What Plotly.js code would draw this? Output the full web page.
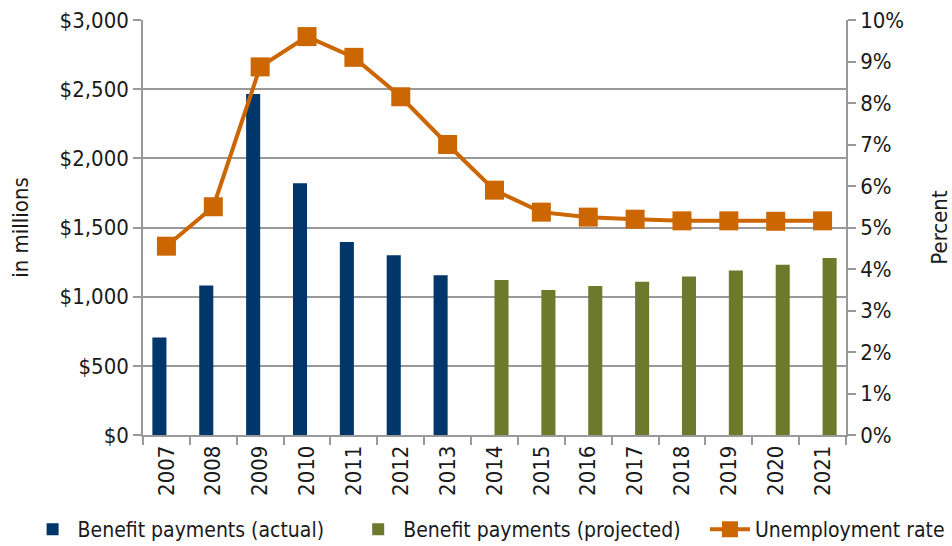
<!DOCTYPE html>
<html><head><meta charset="utf-8">
<script src="https://cdn.plot.ly/plotly-3.0.1.min.js"></script>
<style>body{margin:0;background:#fff}#c{width:952px;height:546px}</style>
</head><body><div id="c"></div>
<script>
const years = ["2007","2008","2009","2010","2011","2012","2013","2014","2015","2016","2017","2018","2019","2020","2021"];
const actual = [705, 1080, 2465, 1820, 1395, 1300, 1155, null, null, null, null, null, null, null, null];
const projected = [null, null, null, null, null, null, null, 1120, 1048, 1078, 1108, 1145, 1190, 1230, 1280];
const unemployment = [4.55, 5.5, 8.87, 9.6, 9.1, 8.15, 7.0, 5.9, 5.37, 5.25, 5.2, 5.16, 5.16, 5.15, 5.16];

const font = "'DejaVu Sans Condensed', 'Liberation Sans Narrow', 'Arial Narrow', sans-serif";
const traces = [
  {type:'bar', x:years, y:actual, name:'Benefit payments (actual)', marker:{color:'#00366A'}, legend:'legend'},
  {type:'bar', x:years, y:projected, name:'Benefit payments (projected)', marker:{color:'#6E7A2B'}, legend:'legend2'},
  {type:'scatter', mode:'lines+markers', x:years, y:unemployment, yaxis:'y2', name:'Unemployment rate',
   line:{color:'#CC6600', width:4}, marker:{symbol:'square', size:19, color:'#CC6600'}, legend:'legend3'}
];
const leg = (x) => ({orientation:'h', xref:'container', yref:'container', x:x, xanchor:'left', y:0.03, yanchor:'middle',
    font:{size:21}, itemwidth:40, bgcolor:'rgba(0,0,0,0)'});
const layout = {
  width:952, height:546,
  margin:{l:143, r:106, t:20, b:111},
  paper_bgcolor:'#fff', plot_bgcolor:'#fff',
  font:{family:font, size:22, color:'#1a1a1a'},
  barmode:'group', bargap:0.4, bargroupgap:0,
  showlegend:true,
  legend:leg(0.029), legend2:leg(0.371), legend3:leg(0.7405),
  xaxis:{type:'category', range:[-0.5,14.5], tickangle:-90, ticks:'outside', ticklen:8, tickcolor:'#999', tickwidth:1.5, tickson:'boundaries',
    showline:true, linecolor:'#999', linewidth:1.5, showgrid:false, tickfont:{size:22}},
  yaxis:{range:[0,3000], dtick:500, tickprefix:'$', tickformat:',', ticks:'outside', ticklen:8, tickcolor:'#999', tickwidth:1.5,
    showline:true, linecolor:'#999', linewidth:1.5, gridcolor:'#999', gridwidth:1.5, zeroline:false,
    title:{text:'in millions', standoff:25, font:{size:22}}},
  yaxis2:{range:[0,10], dtick:1, ticksuffix:'%', overlaying:'y', side:'right', ticks:'outside', ticklen:8, tickcolor:'#999', tickwidth:1.5,
    showline:true, linecolor:'#999', linewidth:1.5, showgrid:false, zeroline:false,
    title:{text:'Percent', standoff:30, font:{size:22}}}
};
Plotly.newPlot('c', traces, layout, {displayModeBar:false});
</script></body></html>
